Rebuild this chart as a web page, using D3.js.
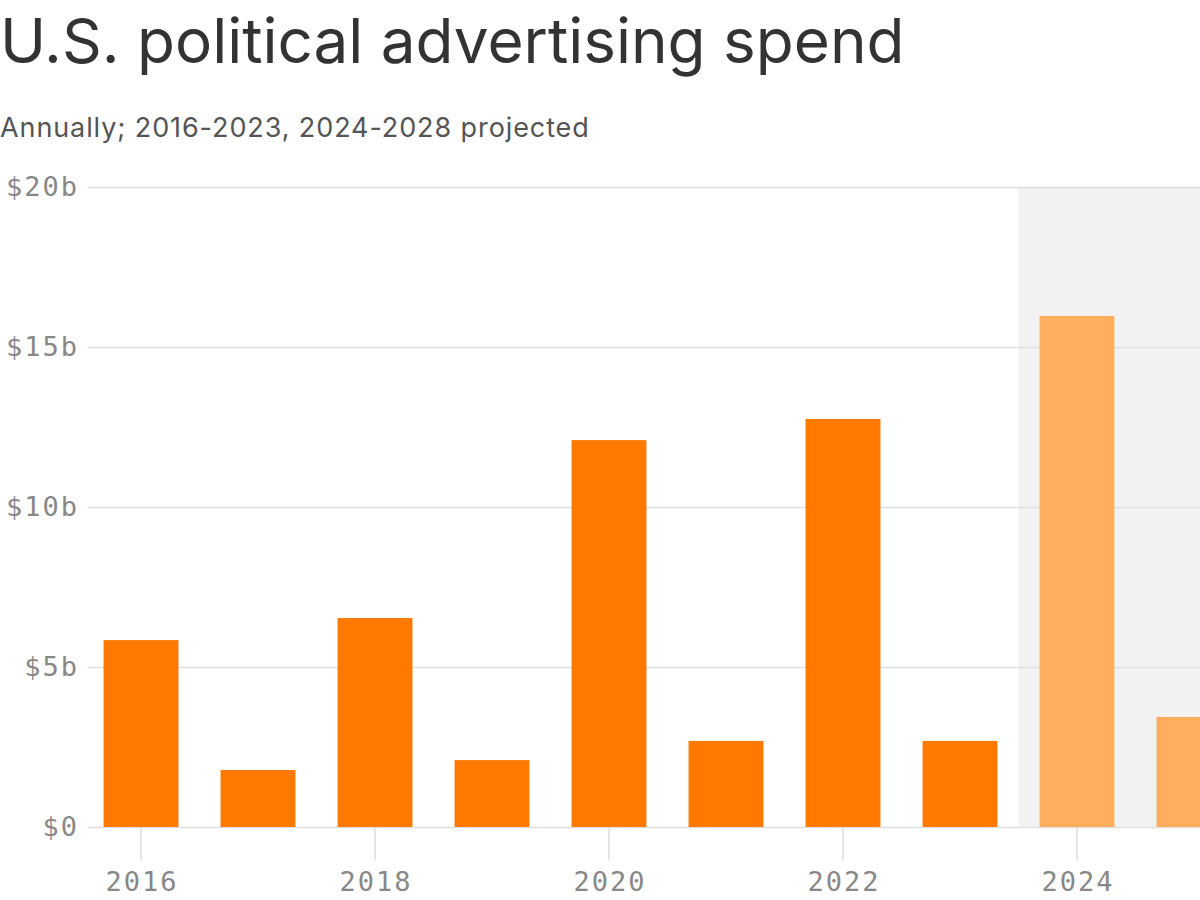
<!DOCTYPE html>
<html>
<head>
<meta charset="utf-8">
<script src="https://cdn.jsdelivr.net/npm/d3@7"></script>
<style>
  html, body { margin: 0; padding: 0; background: #fff; overflow: hidden; }
  svg { display: block; }
</style>
</head>
<body>
<svg id="chart" width="1200" height="900"></svg>
<script>
const titleText = "U.S. political advertising spend";
const subtitleText = "Annually; 2016-2023, 2024-2028 projected";
const years = [2016, 2017, 2018, 2019, 2020, 2021, 2022, 2023, 2024, 2025];
const spend = [5.84, 1.78, 6.53, 2.09, 12.09, 2.69, 12.75, 2.69, 15.97, 3.44];
const projected = [false, false, false, false, false, false, false, false, true, true];
const yTicks = [0, 5, 10, 15, 20];
const yTickLabels = ["$0", "$5b", "$10b", "$15b", "$20b"];
const xTickYears = [2016, 2018, 2020, 2022, 2024];

(function () {
const svg = d3.select("#chart");
const W = 1200;
const plotTop = 187, plotBottom = 827;

svg.append("text")
  .attr("x", 0).attr("y", 63)
  .attr("font-family", "Inter, 'Noto Sans', sans-serif")
  .attr("font-size", 62)
  .attr("font-weight", 400)
  .attr("fill", "#333")
  .text(titleText);

svg.append("text")
  .attr("x", 0).attr("y", 137)
  .attr("font-family", "Inter, 'Noto Sans', sans-serif")
  .attr("font-size", 27)
  .attr("letter-spacing", 0.9)
  .attr("fill", "#555")
  .text(subtitleText);

const x = d3.scaleBand()
  .domain(years)
  .range([82.5, 82.5 + 117 * years.length])
  .paddingInner(0.36)
  .paddingOuter(0.18);

const y = d3.scaleLinear().domain([0, 20]).range([plotBottom, plotTop]);

// projected shading
const firstProj = years[projected.indexOf(true)];
const shadeX = x(firstProj) - x.step() * x.paddingInner() / 2;
svg.append("rect")
  .attr("x", shadeX).attr("y", y(20))
  .attr("width", W - shadeX).attr("height", y(0) - y(20))
  .attr("fill", "#f2f2f2");

// y gridlines & labels
const yAxis = d3.axisLeft(y).tickValues(yTicks)
  .tickSize(-(W - 88))
  .tickFormat((d, i) => yTickLabels[i]);
const yg = svg.append("g").attr("transform", "translate(88,0)").call(yAxis);
yg.select(".domain").remove();
yg.selectAll(".tick line").attr("stroke", "#e0e0e0").attr("stroke-width", 1.5);
yg.selectAll(".tick text")
  .attr("x", -9)
  .attr("font-family", "'DejaVu Sans Mono', monospace")
  .attr("font-size", 27)
  .attr("letter-spacing", 2)
  .attr("fill", "#888");

// x axis ticks
const xAxis = d3.axisBottom(x).tickValues(xTickYears).tickSize(33).tickPadding(12);
const xg = svg.append("g").attr("transform", `translate(0,${plotBottom})`).call(xAxis);
xg.select(".domain").remove();
xg.selectAll(".tick line").attr("stroke", "#ddd").attr("stroke-width", 1.5);
xg.selectAll(".tick text")
  .attr("dx", 1)
  .attr("font-family", "'DejaVu Sans Mono', monospace")
  .attr("font-size", 27)
  .attr("letter-spacing", 2)
  .attr("fill", "#888");

// bars
svg.append("g").selectAll("rect")
  .data(years)
  .join("rect")
  .attr("x", d => x(d))
  .attr("width", x.bandwidth())
  .attr("y", (d, i) => y(spend[i]))
  .attr("height", (d, i) => y(0) - y(spend[i]))
  .attr("fill", (d, i) => projected[i] ? "#ffae5f" : "#ff7900");
})();
</script>
</body>
</html>
